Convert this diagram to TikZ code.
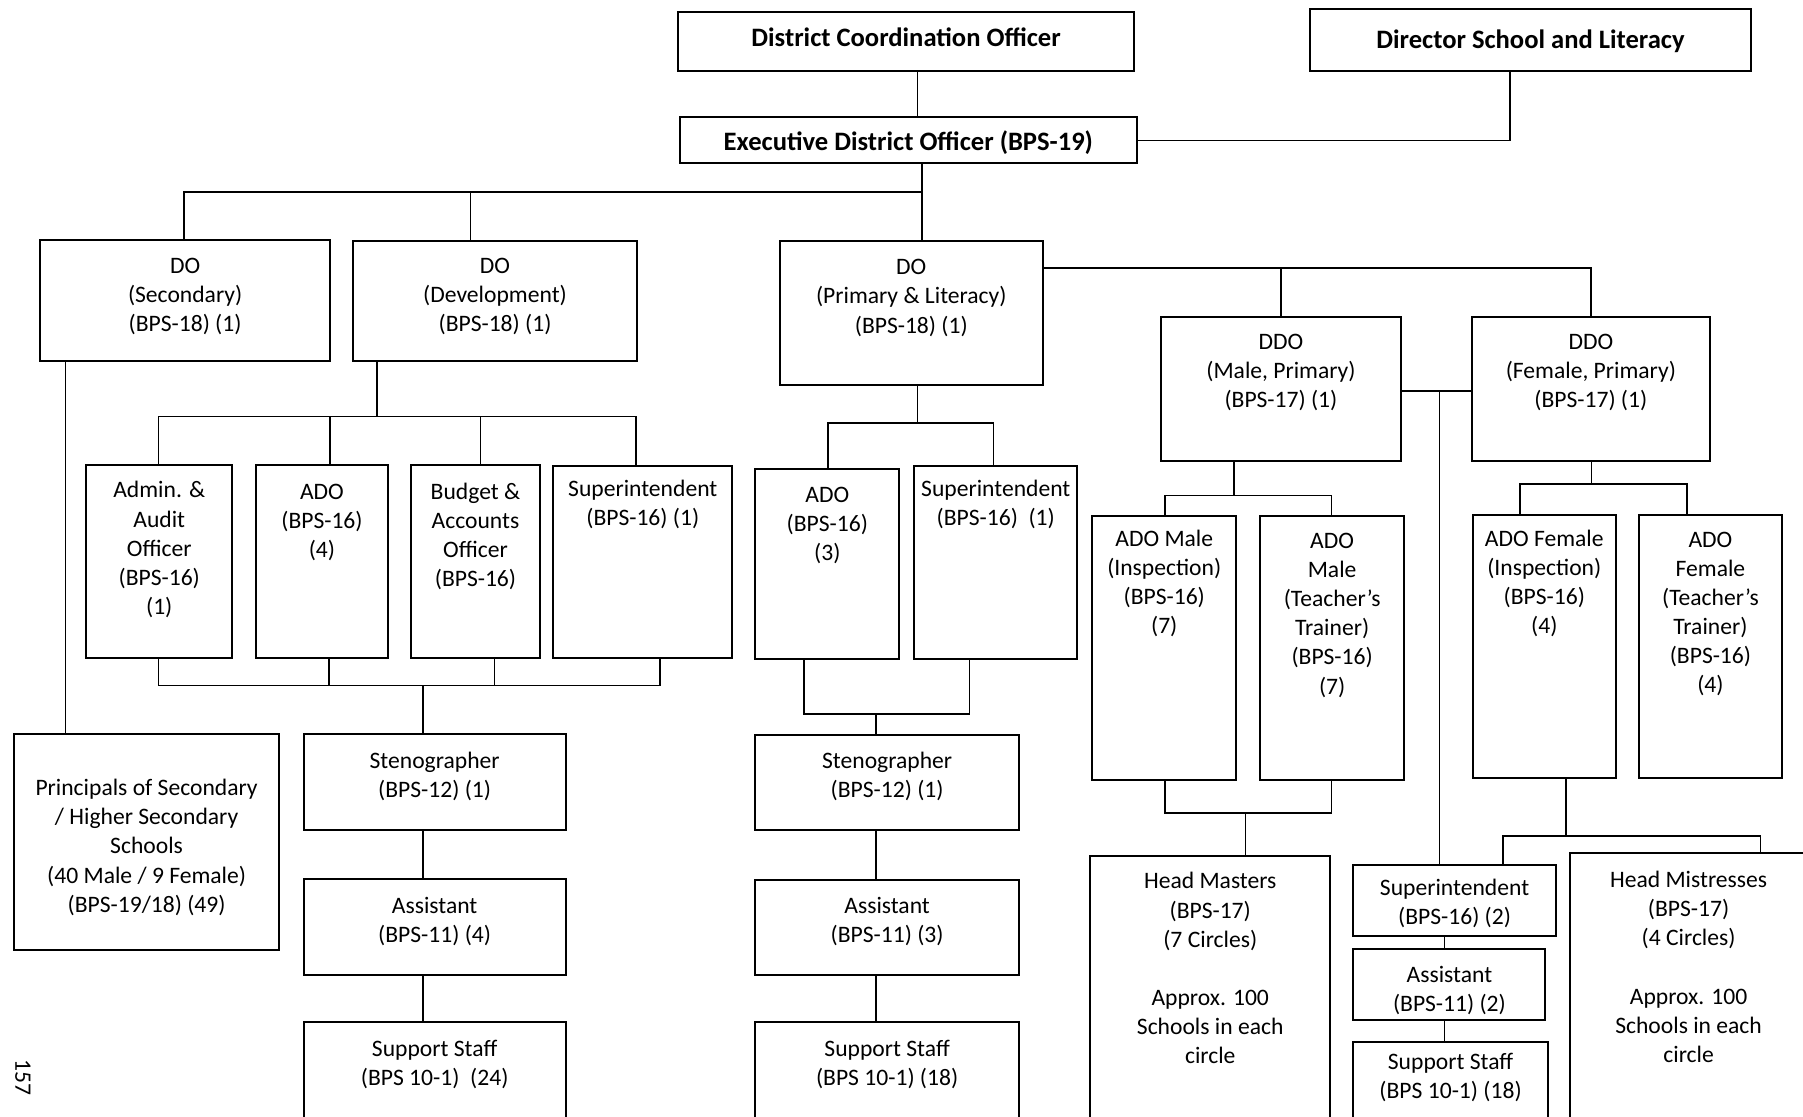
\documentclass[tikz,border=0pt]{standalone}
\usepackage{fontspec}
\setmainfont{Carlito}
\tikzset{
  box/.style={draw, line width=1pt, inner sep=0pt, outer sep=0pt, anchor=north west},
  conn/.style={line width=0.75pt},
  txt/.style={align=center, inner sep=0pt, anchor=north, font=\fontsize{11.8}{14.55}\selectfont},
  btxt/.style={inner sep=0pt, anchor=center, font=\fontsize{13.3}{16}\selectfont\bfseries},
}
\newcommand{\obox}[7]{%
  \node[box, minimum width={(#4-#2)*0.575pt}, minimum height={(#5-#3)*0.575pt}] (#1) at (#2,#3) {};
  \node[txt] at ({(#2+#4)/2},{#6-11}) {\strut#7};
}
\newcommand{\bbox}[7]{%
  \node[box, minimum width={(#4-#2)*0.575pt}, minimum height={(#5-#3)*0.575pt}] (#1) at (#2,#3) {};
  \node[btxt] at ({(#2+#4)/2},#6) {#7};
}
\begin{document}
\begin{tikzpicture}[x=0.575pt,y=-0.575pt]
\fill[white] (0,0) rectangle (1568,971);
\clip (0,0) rectangle (1568,971);

% top level
\bbox{dco}{590}{10}{986}{62}{32}{District Coordination Officer}
\bbox{dsl}{1139}{8}{1523}{62}{36}{Director School and Literacy}
\bbox{edo}{591}{102}{989}{142}{124}{Executive District Officer (BPS-19)}

% second level
\obox{dosec}{35}{209}{287}{314}{231}{DO\\(Secondary)\\(BPS-18) (1)}
\obox{dodev}{307}{210}{554}{314}{231}{DO\\(Development)\\(BPS-18) (1)}
\obox{dopri}{678}{210}{907}{335}{232}{DO\\(Primary \& Literacy)\\(BPS-18) (1)}
\obox{ddom}{1010}{276}{1218}{401}{297}{DDO\\(Male, Primary)\\(BPS-17) (1)}
\obox{ddof}{1280}{276}{1487}{401}{297}{DDO\\(Female, Primary)\\(BPS-17) (1)}

% third level
\obox{admin}{75}{404}{202}{572}{426}{Admin. \&\\Audit\\Officer\\(BPS-16)\\(1)}
\obox{adoa}{223}{404}{337}{572}{427}{ADO\\(BPS-16)\\(4)}
\obox{budget}{357}{404}{470}{572}{427}{Budget \&\\Accounts\\Officer\\(BPS-16)}
\obox{supa}{481}{405}{637}{572}{425}{Superintendent\\(BPS-16) (1)}
\obox{adob}{657}{408}{782}{573}{430}{ADO\\(BPS-16)\\(3)}
\obox{supb}{795}{405}{937}{573}{425}{Superintendent\\(BPS-16)\ \ (1)}
\obox{adomi}{950}{449}{1075}{678}{468}{ADO Male\\(Inspection)\\(BPS-16)\\(7)}
\obox{adomt}{1096}{449}{1221}{678}{470}{ADO\\Male\\(Teacher’s\\Trainer)\\(BPS-16)\\(7)}
\obox{adofi}{1281}{448}{1405}{677}{468}{ADO Female\\(Inspection)\\(BPS-16)\\(4)}
\obox{adoft}{1425}{448}{1550}{677}{469}{ADO\\Female\\(Teacher’s\\Trainer)\\(BPS-16)\\(4)}

% lower levels
\obox{princ}{12}{638}{243}{826}{685}{Principals of Secondary\\/ Higher Secondary\\Schools\\(40 Male / 9 Female)\\(BPS-19/18) (49)}
\obox{stenoa}{264}{638}{492}{722}{661}{Stenographer\\(BPS-12) (1)}
\obox{assta}{264}{764}{492}{848}{787}{Assistant\\(BPS-11) (4)}
\obox{suppa}{264}{889}{492}{990}{912}{Support Staff\\(BPS 10-1)\ \ (24)}
\obox{stenob}{657}{639}{886}{722}{661}{Stenographer\\(BPS-12) (1)}
\obox{asstb}{657}{765}{886}{848}{787}{Assistant\\(BPS-11) (3)}
\obox{suppb}{657}{889}{886}{990}{912}{Support Staff\\(BPS 10-1) (18)}
\obox{hm}{948}{744}{1157}{990}{766}{Head Masters\\(BPS-17)\\(7 Circles)\\[14.5pt]Approx. 100\\Schools in each\\circle}
\obox{supc}{1177}{752}{1353}{814}{772}{Superintendent\\(BPS-16) (2)}
\obox{asstc}{1177}{825}{1344}{887}{847}{Assistant\\(BPS-11) (2)}
\obox{suppc}{1177}{906}{1346}{990}{923}{Support Staff\\(BPS 10-1) (18)}
\obox{hmis}{1365}{742}{1572}{990}{765}{Head Mistresses\\(BPS-17)\\(4 Circles)\\[14.5pt]Approx. 100\\Schools in each\\circle}

% page number
\node[inner sep=0pt, rotate=-90, font=\fontsize{11.8}{14}\selectfont] (pg) at (20,937) {157};

% ---- connectors ----
\draw[conn] (dco.south -| 798,0) -- (edo.north -| 798,0);
\draw[conn] (dsl.south -| 1313,0) |- (edo.east);
\coordinate (busA) at (802,167);
\draw[conn] (edo.south -| busA) -- (dopri.north -| busA);
\draw[conn] (dosec.north -| 160,0) |- (busA);
\draw[conn] (dodev.north -| 409,0) -- (busA -| 409,0);

\draw[conn] (dopri.east |- 0,233) -| (ddof.north);
\draw[conn] (ddom.north |- 0,233) -- (ddom.north);
\coordinate (link) at (1252,340);
\draw[conn] (ddom.east |- link) -- (ddof.west |- link);
\draw[conn] (link) -- (supc.north -| link);

% development branch
\coordinate (busB) at (328,362);
\draw[conn] (dodev.south -| busB) -- (busB);
\draw[conn] (admin.north -| 138,0) |- (busB) -| (supa.north -| 553,0);
\draw[conn] (adoa.north -| 287,0) -- (busB -| 287,0);
\draw[conn] (budget.north -| 418,0) -- (busB -| 418,0);
\coordinate (busC) at (368,596);
\draw[conn] (admin.south -| 138,0) |- (busC) -| (supa.south -| 574,0);
\draw[conn] (adoa.south -| 286,0) -- (busC -| 286,0);
\draw[conn] (budget.south -| 430,0) -- (busC -| 430,0);
\draw[conn] (busC) -- (stenoa.north -| busC);
\draw[conn] (stenoa.south -| busC) -- (assta.north -| busC);
\draw[conn] (assta.south -| busC) -- (suppa.north -| busC);

% secondary branch
\draw[conn] (dosec.south -| 57,0) -- (princ.north -| 57,0);

% primary branch
\coordinate (busD) at (798,368);
\draw[conn] (dopri.south -| busD) -- (busD);
\draw[conn] (adob.north -| 720,0) |- (busD) -| (supb.north -| 864,0);
\coordinate (busE) at (762,621);
\draw[conn] (adob.south -| 699,0) |- (busE) -| (supb.south -| 843,0);
\draw[conn] (busE) -- (stenob.north -| busE);
\draw[conn] (stenob.south -| busE) -- (asstb.north -| busE);
\draw[conn] (asstb.south -| busE) -- (suppb.north -| busE);

% DDO male branch
\coordinate (busF) at (1073,431);
\draw[conn] (ddom.south -| busF) -- (busF);
\draw[conn] (adomi.north -| 1013,0) |- (busF) -| (adomt.north -| 1158,0);
\coordinate (busG) at (1083,707);
\draw[conn] (adomi.south -| 1013,0) |- (busG) -| (adomt.south -| 1158,0);
\draw[conn] (busG) -- (hm.north -| busG);

% DDO female branch
\coordinate (busH) at (1384,421);
\draw[conn] (ddof.south -| busH) -- (busH);
\draw[conn] (adofi.north -| 1322,0) |- (busH) -| (adoft.north -| 1467,0);
\coordinate (busI) at (1362,727);
\draw[conn] (adofi.south -| busI) -- (busI);
\draw[conn] (supc.north -| 1307,0) |- (busI) -| (hmis.north -| 1531,0);
\draw[conn] (supc.south -| 1256,0) -- (asstc.north -| 1256,0);
\draw[conn] (asstc.south -| 1256,0) -- (suppc.north -| 1256,0);
\end{tikzpicture}
\end{document}
